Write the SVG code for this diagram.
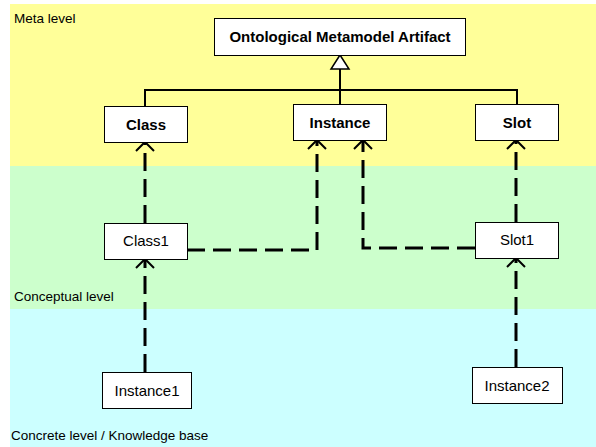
<svg xmlns="http://www.w3.org/2000/svg" width="596" height="447" viewBox="0 0 596 447">
  <style>
    .lvl { font-family: "Liberation Sans", Arial, sans-serif; font-size: 13.5px; fill: #000; }
    .box { fill: #fff; stroke: #000; stroke-width: 1; }
    .meta { font-family: "Liberation Sans", Arial, sans-serif; font-size: 15px; font-weight: bold; text-anchor: middle; fill: #000; }
    .plain { font-family: "Liberation Sans", Arial, sans-serif; font-size: 15px; text-anchor: middle; fill: #000; }
    .gen { fill: none; stroke: #000; stroke-width: 2; }
    .dep { fill: none; stroke: #000; stroke-width: 3; stroke-dasharray: 18 8; marker-end: url(#open); }
  </style>
  <defs>
    <marker id="open" markerUnits="userSpaceOnUse" markerWidth="22" markerHeight="22" refX="11" refY="11" orient="auto" viewBox="0 0 22 22">
      <path d="M2,2 L11,11 L2,20" fill="none" stroke="#000" stroke-width="2"/>
    </marker>
  </defs>

  <!-- level bands -->
  <rect x="10" y="4" width="586" height="162" fill="#FFFF99"/>
  <rect x="10" y="166" width="586" height="143" fill="#CCFFCC"/>
  <rect x="10" y="309" width="586" height="138" fill="#CCFFFF"/>
  <text class="lvl" x="14" y="23">Meta level</text>
  <text class="lvl" x="14" y="301">Conceptual level</text>
  <text class="lvl" x="11" y="440">Concrete level / Knowledge base</text>

  <!-- connectors -->
  <g id="connectors">
    <path class="gen" d="M340,69 V90 M145,106 V90 H517 V104 M340,90 V104"/>
    <polygon points="340,55 331,69 349,69" fill="#fff" stroke="#000" stroke-width="1.5"/>
    <path class="dep" d="M145,223 V142"/>
    <path class="dep" d="M187,250 H317 V140"/>
    <path class="dep" d="M475,248 H363 V140"/>
    <path class="dep" d="M516,222 V140"/>
    <path class="dep" d="M145,372 V259"/>
    <path class="dep" d="M516,367 V258"/>
  </g>

  <g id="artifact">
    <rect class="box" x="214.5" y="18.5" width="251" height="37"/>
    <text class="meta" x="340" y="42">Ontological Metamodel Artifact</text>
  </g>
  <g id="class">
    <rect class="box" x="104.5" y="106.5" width="83" height="36"/>
    <text class="meta" x="146" y="130">Class</text>
  </g>
  <g id="instance">
    <rect class="box" x="293.5" y="104.5" width="93" height="36"/>
    <text class="meta" x="340" y="128">Instance</text>
  </g>
  <g id="slot">
    <rect class="box" x="475.5" y="104.5" width="83" height="36"/>
    <text class="meta" x="517" y="128">Slot</text>
  </g>
  <g id="class1">
    <rect class="box" x="104.5" y="223.5" width="83" height="36"/>
    <text class="plain" x="146" y="246">Class1</text>
  </g>
  <g id="slot1">
    <rect class="box" x="475.5" y="222.5" width="83" height="36"/>
    <text class="plain" x="517" y="245">Slot1</text>
  </g>
  <g id="instance1">
    <rect class="box" x="102.5" y="372.5" width="89" height="36"/>
    <text class="plain" x="147" y="396">Instance1</text>
  </g>
  <g id="instance2">
    <rect class="box" x="472.5" y="367.5" width="90" height="36"/>
    <text class="plain" x="517" y="391">Instance2</text>
  </g>
</svg>
